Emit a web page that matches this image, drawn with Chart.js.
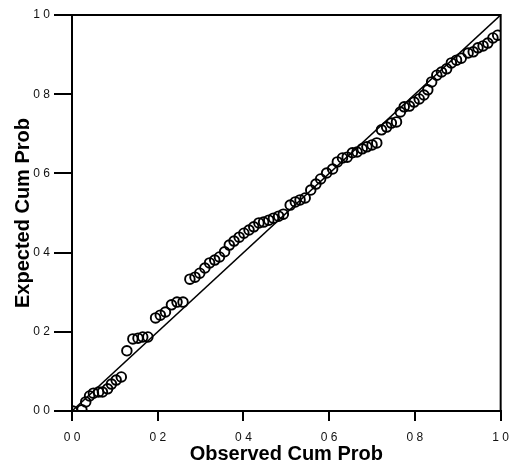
<!DOCTYPE html>
<html>
<head>
<meta charset="utf-8">
<script src="https://cdn.jsdelivr.net/npm/chart.js@4/dist/chart.umd.min.js"></script>
<style>
  html, body { margin: 0; padding: 0; background: #fff; }
  #wrap { width: 518px; height: 468px; }
</style>
</head>
<body>
<div id="wrap"><canvas id="pp-plot" width="518" height="468"></canvas></div>
<script>
// observed vs expected cumulative probabilities
const observedCumProb = [
  0.002, 0.023, 0.032, 0.041, 0.050, 0.062, 0.071, 0.083, 0.092, 0.103, 0.115,
  0.128, 0.142, 0.154, 0.165, 0.177,
  0.195, 0.206, 0.218, 0.232, 0.245, 0.259,
  0.275, 0.287, 0.298, 0.310, 0.321, 0.333, 0.344, 0.356, 0.367, 0.378, 0.390,
  0.401, 0.413, 0.424, 0.436, 0.447, 0.459, 0.470, 0.482, 0.493,
  0.509, 0.521, 0.532, 0.544, 0.557, 0.569, 0.580, 0.594, 0.608,
  0.619, 0.631, 0.642, 0.654, 0.665, 0.677, 0.688, 0.700, 0.711,
  0.722, 0.734, 0.745, 0.757, 0.766, 0.775, 0.787, 0.798, 0.810, 0.821,
  0.830, 0.839, 0.851, 0.862, 0.874, 0.885, 0.897, 0.908, 0.924, 0.936,
  0.947, 0.959, 0.970, 0.982, 0.993
];
const expectedCumProb = [
  0.000, 0.003, 0.023, 0.038, 0.045, 0.048, 0.048, 0.056, 0.068, 0.078, 0.086,
  0.152, 0.182, 0.184, 0.187, 0.187,
  0.235, 0.242, 0.250, 0.268, 0.275, 0.275,
  0.333, 0.338, 0.348, 0.361, 0.374, 0.381, 0.389, 0.402, 0.419, 0.429, 0.439,
  0.449, 0.457, 0.465, 0.475, 0.477, 0.482, 0.487, 0.492, 0.497,
  0.520, 0.528, 0.533, 0.538, 0.558, 0.573, 0.586, 0.601, 0.611,
  0.629, 0.639, 0.641, 0.652, 0.654, 0.662, 0.667, 0.672, 0.677,
  0.710, 0.717, 0.727, 0.730, 0.755, 0.768, 0.770, 0.780, 0.788, 0.798,
  0.811, 0.831, 0.848, 0.856, 0.864, 0.879, 0.886, 0.891, 0.904, 0.907,
  0.917, 0.922, 0.929, 0.942, 0.949
];
const diagonalLine = [0, 1];
const tickLabels = ['0 0', '0 2', '0 4', '0 6', '0 8', '1 0'];

const points = observedCumProb.map((x, i) => ({ x, y: expectedCumProb[i] }));
const diagonal = diagonalLine.map(v => ({ x: v, y: v }));

// box around the plot area (top + right edges)
const frame = {
  id: 'frame',
  afterDraw(chart) {
    const { ctx, chartArea: a } = chart;
    ctx.save();
    ctx.strokeStyle = '#000';
    ctx.lineWidth = 2;
    ctx.strokeRect(a.left, a.top, a.right - a.left, a.bottom - a.top);
    ctx.restore();
  }
};

const tickFont = { family: 'Liberation Sans, Arial, sans-serif', size: 12 };
const titleFont = { family: 'Liberation Sans, Arial, sans-serif', size: 20, weight: 'bold' };

new Chart(document.getElementById('pp-plot').getContext('2d'), {
  type: 'scatter',
  data: {
    datasets: [
      {
        label: 'Observed',
        data: points,
        pointStyle: 'circle',
        pointRadius: 4.8,
        pointBorderWidth: 1.9,
        borderColor: '#000',
        backgroundColor: 'rgba(0,0,0,0)',
        pointHoverRadius: 4.8
      },
      {
        label: 'Expected',
        type: 'line',
        data: diagonal,
        borderColor: '#000',
        borderWidth: 1.5,
        pointRadius: 0,
        fill: false
      }
    ]
  },
  options: {
    responsive: false,
    animation: false,
    layout: { padding: { top: 15, right: 10, left: 0, bottom: 0 } },
    plugins: {
      legend: { display: false },
      tooltip: { enabled: false }
    },
    scales: {
      x: {
        type: 'linear',
        min: 0,
        max: 1,
        afterFit: s => { s.height = 57; },
        ticks: {
          stepSize: 0.2,
          padding: 9,
          color: '#111',
          font: tickFont,
          callback: (v, i) => tickLabels[i]
        },
        grid: { drawOnChartArea: false, drawTicks: true, tickLength: 10, color: '#000', lineWidth: 2 },
        border: { display: true, color: '#000', width: 2 },
        title: {
          display: true,
          text: 'Observed Cum Prob',
          color: '#000',
          font: titleFont,
          padding: { top: 0, bottom: 2 }
        }
      },
      y: {
        type: 'linear',
        min: 0,
        max: 1,
        afterFit: s => { s.width = 72; },
        ticks: {
          stepSize: 0.2,
          padding: 4,
          color: '#111',
          font: tickFont,
          callback: (v, i) => tickLabels[i]
        },
        grid: { drawOnChartArea: false, drawTicks: true, tickLength: 18, color: '#000', lineWidth: 2 },
        border: { display: true, color: '#000', width: 2 },
        title: {
          display: true,
          text: 'Expected Cum Prob',
          color: '#000',
          font: titleFont,
          padding: { top: 11, bottom: 0 }
        }
      }
    }
  },
  plugins: [frame]
});
</script>
</body>
</html>
